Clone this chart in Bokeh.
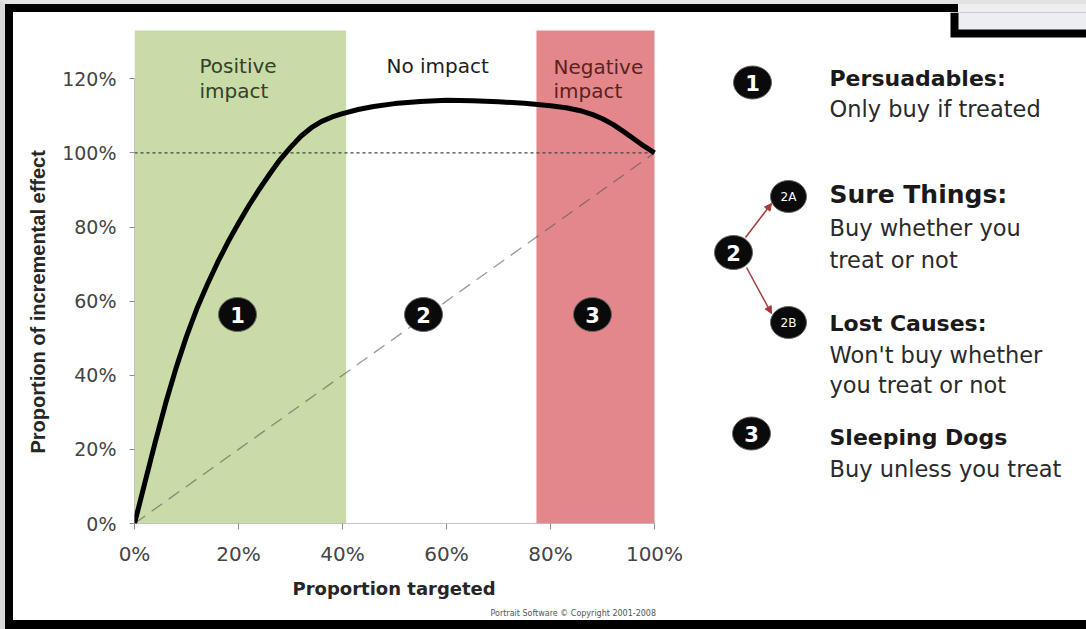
from bokeh.plotting import figure
from bokeh.layouts import column
from bokeh.models import (Range1d, FixedTicker, NumeralTickFormatter, Title,
                          Arrow, NormalHead)
from bokeh.core.properties import value
from bokeh.embed import file_html
from bokeh.resources import INLINE

# ---------------- data ----------------
targeted = [0.00, 0.02, 0.04, 0.06, 0.08, 0.10, 0.12, 0.14, 0.16, 0.18, 0.20,
            0.22, 0.24, 0.26, 0.28, 0.30, 0.32, 0.34, 0.36, 0.38, 0.40, 0.43,
            0.46, 0.50, 0.55, 0.60, 0.65, 0.70, 0.75, 0.80, 0.83, 0.86, 0.88,
            0.90, 0.92, 0.94, 0.96, 0.98, 1.00]
incremental = [0.00, 0.11, 0.22, 0.325, 0.42, 0.505, 0.58, 0.645, 0.705, 0.76, 0.81,
               0.858, 0.902, 0.943, 0.982, 1.015, 1.045, 1.068, 1.085, 1.097, 1.106, 1.117,
               1.125, 1.133, 1.139, 1.142, 1.141, 1.138, 1.134, 1.127, 1.122, 1.113, 1.104,
               1.092, 1.077, 1.058, 1.038, 1.018, 1.00]
random_x = [0.0, 1.0]
random_y = [0.0, 1.0]
full_effect = 1.0

zone_names = ["Positive impact", "No impact", "Negative impact"]
zone_left = [0.0, 0.407, 0.773]
zone_right = [0.407, 0.773, 1.0]
zone_colors = ["#c9dba7", None, "#e4878a"]

segment_ids = ["1", "2", "3"]
x_ticks = [0.0, 0.2, 0.4, 0.6, 0.8, 1.0]
y_ticks = [0.0, 0.2, 0.4, 0.6, 0.8, 1.0, 1.2]

legend_titles = ["Persuadables:", "Sure Things:", "Lost Causes:", "Sleeping Dogs"]
legend_lines = [["Only buy if treated"], ["Buy whether you", "treat or not"],
                ["Won't buy whether", "you treat or not"], ["Buy unless you treat"]]
legend_badges = ["1", "2", "2A", "2B", "3"]

# ---------------- layout (reference pixel -> data) ----------------
GREY_L, GREY_T = 5, 4           # light grey strips outside the slide frame
PAD_L, PAD_T, PAD_B = 8, 8, 9   # black slide frame
ORIG_X, ORIG_Y = GREY_L + PAD_L, GREY_T + PAD_T
W = 1086 - ORIG_X
H = 629 - ORIG_Y - PAD_B
X0, XS = 134.0, 520.0      # pixel of x=0, pixels per unit
Y0, YS = 523.0, 370.6      # pixel of y=0, pixels per unit
def dx(px):
    return (px - X0) / XS
def dy(py):
    return (Y0 - py) / YS

FONT_NAME = "DejaVu Sans"
FONT = value(FONT_NAME)
AXIS_GREY = "#8c8c8c"

p = figure(width=W, height=H, output_backend="svg", toolbar_location=None,
           x_range=Range1d(0, dx(1086)), y_range=Range1d(0, dy(ORIG_Y)),
           min_border_left=int(X0) - ORIG_X, min_border_right=0, min_border_top=0,
           min_border_bottom=H - (int(Y0) - ORIG_Y),
           styles={"background-color": "white"})
p.outline_line_color = None
p.grid.visible = False
p.background_fill_color = "white"
p.border_fill_color = "white"

# zones
band_top = dy(30)
for l, r, c in zip(zone_left, zone_right, zone_colors):
    if c:
        p.quad(left=l, right=r, bottom=0, top=band_top, fill_color=c, line_color=None)

# axis rules (drawn over the 0-100% / 0-120% spans only)
p.line([x_ticks[0], x_ticks[-1]], [0, 0], line_color=AXIS_GREY, line_width=1)
p.line([0, 0], [y_ticks[0], y_ticks[-1]], line_color=AXIS_GREY, line_width=1)

# reference lines
p.line([0, 1], [full_effect, full_effect], line_color="#444444", line_width=1.3, line_dash="3 3")
p.line(random_x, random_y, line_color="#555555", line_alpha=0.6, line_width=1.3, line_dash="13 8")

# main curve
p.line(targeted, incremental, line_color="black", line_width=5, line_join="round")

# zone labels
p.text(x=[dx(199), dx(199)], y=[dy(65), dy(90)], text=["Positive", "impact"],
       text_font=FONT, text_font_size="20px", text_color="#34402a",
       text_baseline="alphabetic", text_align="left")
p.text(x=[dx(386)], y=[dy(65)], text=["No impact"],
       text_font=FONT, text_font_size="20px", text_color="#1e1e1e",
       text_baseline="alphabetic", text_align="left")
p.text(x=[dx(553), dx(553)], y=[dy(66), dy(90)], text=["Negative", "impact"],
       text_font=FONT, text_font_size="20px", text_color="#5c1f22",
       text_baseline="alphabetic", text_align="left")

# segment badges in the chart
seg_x = [dx(237), dx(423), dx(592)]
seg_y = [dy(314)] * 3
p.ellipse(x=seg_x, y=seg_y, width=38, height=34, width_units="screen", height_units="screen",
          fill_color="#0a0a0a", line_color="#666666", line_width=1)
p.text(x=seg_x, y=seg_y, text=segment_ids, text_font=FONT, text_font_style="bold",
       text_font_size="21px", text_color="white", text_align="center", text_baseline="middle")

# right-hand legend: badges
bx = [dx(752), dx(733), dx(788), dx(788), dx(751)]
by = [dy(82), dy(252), dy(196), dy(322), dy(433)]
bw = [38, 38, 36, 36, 38]
bh = [33, 34, 32, 32, 33]
bs = ["21px", "21px", "12px", "12px", "21px"]
p.ellipse(x=bx, y=by, width=bw, height=bh, width_units="screen", height_units="screen",
          fill_color="#0a0a0a", line_color="#666666", line_width=1)
for x, y, t, s in zip(bx, by, legend_badges, bs):
    p.text(x=[x], y=[y], text=[t], text_font=FONT, text_font_style="bold" if len(t) == 1 else "normal",
           text_font_size=s, text_color="white", text_align="center", text_baseline="middle")

arrow_col = "#a63a3a"
p.add_layout(Arrow(x_start=dx(745), y_start=dy(237), x_end=dx(771), y_end=dy(203),
                   line_color=arrow_col, line_width=1.5,
                   end=NormalHead(size=7, fill_color=arrow_col, line_color=arrow_col)))
p.add_layout(Arrow(x_start=dx(746), y_start=dy(267), x_end=dx(771), y_end=dy(313),
                   line_color=arrow_col, line_width=1.5,
                   end=NormalHead(size=7, fill_color=arrow_col, line_color=arrow_col)))

# right-hand legend: texts
title_base = [78, 194, 323, 437]
title_size = ["22px", "25px", "22px", "22px"]
line_base = [[108], [227, 259], [354, 384], [468]]
for t, tb, ts, lines, lb in zip(legend_titles, title_base, title_size, legend_lines, line_base):
    p.text(x=[dx(829)], y=[dy(tb)], text=[t], text_font=FONT, text_font_style="bold",
           text_font_size=ts, text_color="#1a1a1a", text_baseline="alphabetic")
    p.text(x=[dx(829)] * len(lines), y=[dy(b) for b in lb], text=lines, text_font=FONT,
           text_font_size="22.5px", text_color="#2a2a2a", text_baseline="alphabetic")

# corner box of the slide frame (top right)
p.quad(left=dx(950), right=dx(1086), top=dy(ORIG_Y), bottom=dy(37), fill_color="black", line_color=None)
p.quad(left=dx(958), right=dx(1086), top=dy(ORIG_Y), bottom=dy(29), fill_color="#eceef1", line_color=None)

# axes (ticks + labels; the rules are drawn above)
for ax, ticks, bounds in ((p.xaxis[0], x_ticks, (0, 1)), (p.yaxis[0], y_ticks, (0, 1.2))):
    ax.ticker = FixedTicker(ticks=ticks)
    ax.formatter = NumeralTickFormatter(format="0%")
    ax.bounds = bounds
    ax.axis_line_color = None
    ax.major_tick_line_color = AXIS_GREY
    ax.major_tick_in = 0
    ax.minor_tick_line_color = None
    ax.major_label_text_font = FONT_NAME
    ax.major_label_text_color = "#444444"

p.xaxis.major_label_text_font_size = "20px"
p.yaxis.major_label_text_font_size = "19px"
p.xaxis.major_tick_out = 6
p.yaxis.major_tick_out = 5
p.xaxis.major_label_standoff = 12
p.yaxis.major_label_standoff = 13

# axis titles (side titles so they sit over the 0-100% / 0-120% spans)
p.add_layout(Title(text="Proportion of incremental effect", align="left", offset=70,
                   text_font="Liberation Sans", text_font_size="20px", text_font_style="bold",
                   text_color="#262626", standoff=21), "left")
p.add_layout(Title(text="Proportion targeted", align="left", offset=158,
                   text_font=FONT_NAME, text_font_size="18px", text_font_style="bold",
                   text_color="#262626", standoff=15), "below")
p.add_layout(Title(text="Portrait Software \u00a9 Copyright 2001-2008", align="left", offset=356,
                   text_font=FONT_NAME, text_font_size="8px", text_font_style="normal",
                   text_color="#555555", standoff=0), "below")

page = column(p, styles={
    "background": "linear-gradient(#eceef1, #eceef1) right top / 128px 8px no-repeat, black",
    "padding": f"{PAD_T}px 0px {PAD_B}px {PAD_L}px",
    "border-top": f"{GREY_T}px solid #e2e2e2",
    "border-left": f"{GREY_L}px solid #d8d8d8",
})

open("out.html", "w").write(file_html(page, INLINE))
